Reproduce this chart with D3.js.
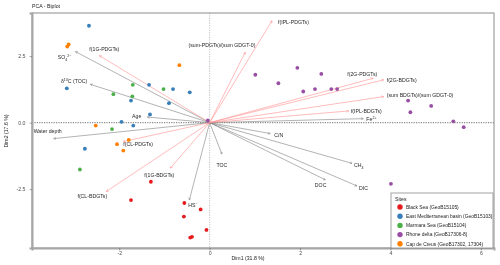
<!DOCTYPE html>
<html>
<head>
<meta charset="utf-8">
<script src="https://cdn.jsdelivr.net/npm/d3@7"></script>
<style>
  body { margin: 0; background: #fff; }
  svg { will-change: transform; }
  text { font-family: "Liberation Sans", Arial, sans-serif; }
</style>
</head>
<body>
<svg id="chart"></svg>
<script>
// sites (legend order)
var siteNames = [
  "Black Sea (GeoB15105)",
  "East Mediterranean basin (GeoB15103)",
  "Marmara Sea (GeoB15104)",
  "Rhone delta (GeoB17306-8)",
  "Cap de Creus (GeoB17302, 17304)"
];
var siteColors = ["#e41a1c", "#377eb8", "#4daf4a", "#984ea3", "#ff7f00"];

// individual scores (Dim1, Dim2) per site
var blackSeaDim1 = [-1.30, -1.74, -0.56, -0.20, -0.57, -0.07, -0.43, -0.39];
var blackSeaDim2 = [-2.22, -2.91, -3.02, -3.26, -3.53, -4.03, -4.32, -4.29];
var eastMedDim1 = [-2.67, -3.16, -1.34, -0.81, -0.44, -0.90, -1.74, -1.32, -1.95, -1.69, -2.76];
var eastMedDim2 = [3.64, 1.29, 1.42, 1.26, 1.14, 0.73, 0.83, 0.31, 0.03, -0.11, -0.98];
var marmaraDim1 = [-1.70, -1.02, -2.13, -1.71, -2.16, -2.87];
var marmaraDim2 = [1.42, 1.26, 1.07, 0.99, -0.24, -1.76];
var rhoneDim1 = [1.01, 1.94, 2.47, 1.52, 2.07, 2.33, 2.69, 2.82, 4.39, 4.90, 4.44, 5.39, 5.62, -0.04, 4.01];
var rhoneDim2 = [1.80, 2.06, 1.83, 1.48, 1.17, 1.26, 1.26, 1.26, 0.83, 0.63, 0.39, 0.05, -0.17, 0.08, -2.30];
var capCreusDim1 = [-3.15, -3.12, -0.67, -2.52, -1.79, -2.05, -1.91];
var capCreusDim2 = [2.86, 2.94, 2.16, -0.11, -0.65, -0.81, -1.05];

// variable loadings: environmental (grey) and lipid (red)
var envNames = ["SO_{4}^{2-}", "\u03b4^{13}C (TOC)", "Age", "Water depth", "C/N", "TOC",
  "HS^{-}", "DOC", "DIC", "CH_{4}", "Fe^{2+}"];
var envDim1 = [-2.97, -2.64, -1.38, -3.45, 1.34, 0.27, -0.45, 2.56, 3.26, 3.15, 3.40];
var envDim2 = [2.67, 1.44, 0.21, -0.60, -0.41, -1.18, -2.91, -2.15, -2.38, -1.53, 0.15];

var lipidNames = ["f(1G-PDGTs)", "f(IPL-PDGTs)", "(sum-PDGTs)/(sum GDGT-0)", "f(2G-PDGTs)",
  "f(2G-BDGTs)", "(sum BDGTs)/(sum GDGT-0)", "f(IPL-BDGTs)", "f(CL-PDGTs)",
  "f(1G-BDGTs)", "f(CL-BDGTs)"];
var lipidDim1 = [-2.44, 1.38, 0.79, 3.62, 3.85, 3.85, 3.08, -1.91, -0.87, -2.29];
var lipidDim2 = [2.52, 3.83, 2.65, 1.67, 1.61, 0.98, 0.44, -0.71, -1.71, -2.59];

// label placement relative to arrow tip: [dx, dy, anchor]
var labelPlace = {
  "SO_{4}^{2-}": [-4, 6, "end"],
  "\u03b4^{13}C (TOC)": [-3, -3, "end"],
  "Age": [-6, -1, "end"],
  "Water depth": [-6, -7, "middle"],
  "C/N": [4, 2, "start"],
  "TOC": [0, 11, "middle"],
  "HS^{-}": [-1, 5, "start"],
  "DOC": [1, 5, "end"],
  "DIC": [2, 2, "start"],
  "CH_{4}": [2, 2, "start"],
  "Fe^{2+}": [3, 1, "start"],
  "f(1G-PDGTs)": [-10, -6, "start"],
  "f(IPL-PDGTs)": [6, 1, "start"],
  "(sum-PDGTs)/(sum GDGT-0)": [10, -7, "end"],
  "f(2G-PDGTs)": [4, -4, "end"],
  "f(2G-BDGTs)": [3, 0, "start"],
  "(sum BDGTs)/(sum GDGT-0)": [3, -1, "start"],
  "f(IPL-BDGTs)": [2, 0, "start"],
  "f(CL-PDGTs)": [0, 3, "start"],
  "f(1G-BDGTs)": [4, 7, "end"],
  "f(CL-BDGTs)": [1, 5, "end"]
};

var width = 500, height = 265;
var pLeft = 32, pRight = 494, pTop = 13, pBottom = 248;
var fs = 5.2;

var svg = d3.select("#chart").attr("width", width).attr("height", height);

var x = d3.scaleLinear().domain([-3.93, 6.29]).range([pLeft, pRight]);
var y = d3.scaleLinear().domain([-4.71, 4.12]).range([pBottom, pTop]);

// markers
var defs = svg.append("defs");
[["arrGrey", "#808080"], ["arrRed", "#ff8f8f"]].forEach(function (m) {
  defs.append("marker")
    .attr("id", m[0])
    .attr("viewBox", "0 0 10 10")
    .attr("refX", 9).attr("refY", 5)
    .attr("markerWidth", 5).attr("markerHeight", 5)
    .attr("orient", "auto")
    .append("path")
    .attr("d", "M1,1 L9,5 L1,9")
    .attr("fill", "none")
    .attr("stroke", m[1])
    .attr("stroke-width", 1.5);
});

// title
svg.append("text").attr("x", pLeft).attr("y", 8)
  .style("font-size", "5.2px").style("fill", "#222").text("PCA - Biplot");

// panel border
svg.append("rect").attr("x", pLeft).attr("y", pTop)
  .attr("width", pRight - pLeft).attr("height", pBottom - pTop)
  .attr("fill", "none").attr("stroke", "#8c8c8c").attr("stroke-width", 1);

// zero lines
svg.append("line").attr("x1", pLeft).attr("x2", pRight).attr("y1", y(0)).attr("y2", y(0))
  .attr("stroke", "#8a8a8a").attr("stroke-width", 1.1).attr("stroke-dasharray", "1.2,1.2");
svg.append("line").attr("x1", x(0)).attr("x2", x(0)).attr("y1", pTop).attr("y2", pBottom)
  .attr("stroke", "#9a9a9a").attr("stroke-width", 0.6).attr("stroke-dasharray", "1.2,1.2");

// axes
var xAxis = svg.append("g").attr("transform", "translate(0," + pBottom + ")")
  .call(d3.axisBottom(x).tickValues([-2, 0, 2, 4, 6]).tickSize(2.5).tickPadding(1)
    .tickFormat(function (d) { return String(d); }));
var yAxis = svg.append("g").attr("transform", "translate(" + pLeft + ",0)")
  .call(d3.axisLeft(y).tickValues([-2.5, 0, 2.5]).tickSize(2.5).tickPadding(4)
    .tickFormat(function (d) { return d.toFixed(1); }));
[xAxis, yAxis].forEach(function (a) {
  a.select(".domain").attr("stroke", "#a6a6a6").attr("stroke-width", 2);
  a.selectAll(".tick line").attr("stroke", "#555").attr("stroke-width", 0.5);
  a.selectAll(".tick text").style("font-size", fs + "px").style("fill", "#4d4d4d")
    .style("font-family", "Liberation Sans, Arial, sans-serif");
});

svg.append("text").attr("x", 248).attr("y", 260).attr("text-anchor", "middle")
  .style("font-size", fs + "px").style("fill", "#222").text("Dim1 (31.8 %)");
svg.append("text").attr("transform", "translate(8," + 131 + ") rotate(-90)")
  .attr("text-anchor", "middle")
  .style("font-size", fs + "px").style("fill", "#222").text("Dim2 (17.6 %)");

// rich label helper for sub/superscripts
function richText(sel, label) {
  var re = /(_|\^)\{([^}]*)\}/g, last = 0, m;
  while ((m = re.exec(label)) !== null) {
    if (m.index > last) sel.append("tspan").text(label.slice(last, m.index));
    sel.append("tspan")
      .attr("baseline-shift", m[1] === "^" ? "super" : "sub")
      .style("font-size", (fs * 0.7) + "px")
      .text(m[2].replace("-", "\u2212"));
    last = re.lastIndex;
  }
  if (last < label.length) sel.append("tspan").text(label.slice(last));
}

function drawVars(names, d1, d2, color, marker) {
  var data = names.map(function (n, i) { return { name: n, x: d1[i], y: d2[i] }; });
  var g = svg.append("g");
  g.selectAll("line").data(data).enter().append("line")
    .attr("x1", x(0)).attr("y1", y(0))
    .attr("x2", function (d) { return x(d.x); })
    .attr("y2", function (d) { return y(d.y); })
    .attr("stroke", color).attr("stroke-width", 0.6)
    .attr("marker-end", "url(#" + marker + ")");
  return data;
}

function drawLabels(data) {
  svg.append("g").selectAll("text").data(data).enter().append("text")
    .attr("x", function (d) { return x(d.x) + labelPlace[d.name][0]; })
    .attr("y", function (d) { return y(d.y) + labelPlace[d.name][1]; })
    .attr("dy", "0.35em")
    .attr("text-anchor", function (d) { return labelPlace[d.name][2]; })
    .style("font-size", fs + "px").style("fill", "#262626")
    .each(function (d) { richText(d3.select(this), d.name); });
}

var envData = drawVars(envNames, envDim1, envDim2, "#808080", "arrGrey");
var lipidData = drawVars(lipidNames, lipidDim1, lipidDim2, "#ff8f8f", "arrRed");

// individuals
var siteDim1 = [blackSeaDim1, eastMedDim1, marmaraDim1, rhoneDim1, capCreusDim1];
var siteDim2 = [blackSeaDim2, eastMedDim2, marmaraDim2, rhoneDim2, capCreusDim2];
var pts = [];
siteDim1.forEach(function (arr, s) {
  arr.forEach(function (v, i) { pts.push({ site: s, x: v, y: siteDim2[s][i] }); });
});
svg.append("g").selectAll("circle").data(pts).enter().append("circle")
  .attr("cx", function (d) { return x(d.x); })
  .attr("cy", function (d) { return y(d.y); })
  .attr("r", 1.9)
  .attr("fill", function (d) { return siteColors[d.site]; });

drawLabels(envData);
drawLabels(lipidData);

// legend
var lg = svg.append("g").attr("transform", "translate(391,193)");
lg.append("rect").attr("width", 102).attr("height", 55)
  .attr("fill", "#fff").attr("stroke", "#8c8c8c").attr("stroke-width", 0.8);
lg.append("text").attr("x", 4).attr("y", 6).attr("dy", "0.35em")
  .style("font-size", fs + "px").style("fill", "#222").text("Sites");
var item = lg.selectAll(".item").data(siteNames).enter().append("g")
  .attr("transform", function (d, i) { return "translate(0," + (14 + i * 9.2) + ")"; });
item.append("circle").attr("cx", 9).attr("r", 2.7)
  .attr("fill", function (d, i) { return siteColors[i]; });
item.append("text").attr("x", 15).attr("dy", "0.35em")
  .style("font-size", "4.9px").style("fill", "#222").text(function (d) { return d; });
</script>
</body>
</html>
